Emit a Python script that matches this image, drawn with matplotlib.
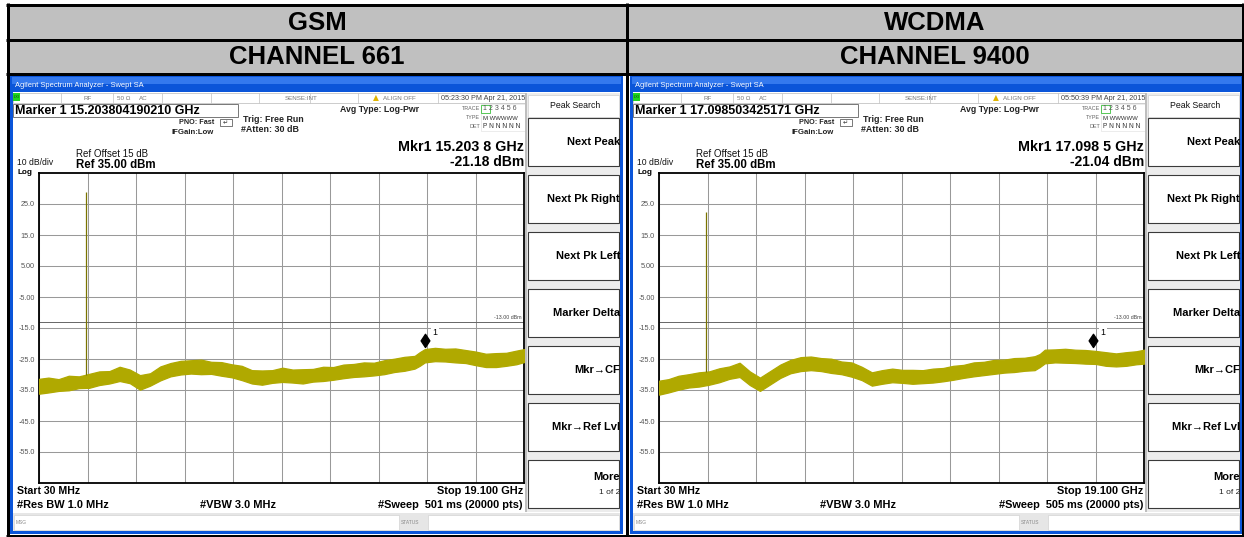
import matplotlib
matplotlib.use('Agg')
import matplotlib.pyplot as plt
from matplotlib.patches import Rectangle
from matplotlib.path import Path
import numpy as np

W, H = 1244, 537
plt.rcParams['font.family'] = ['Liberation Sans', 'DejaVu Sans']

# ---------------- data ----------------
headers = ['GSM', 'WCDMA']
channels = ['CHANNEL 661', 'CHANNEL 9400']
timestamps = ['05:23:30 PM Apr 21, 2015', '05:50:39 PM Apr 21, 2015']
marker_exact = ['Marker 1 15.203804190210 GHz', 'Marker 1 17.098503425171 GHz']
mkr_readout = ['Mkr1 15.203 8 GHz', 'Mkr1 17.098 5 GHz']
mkr_freq = [15.2038, 17.0985]          # GHz
mkr_level = [-21.18, -21.04]           # dBm
mkr_level_text = ['-21.18 dBm', '-21.04 dBm']
sweep_text = ['#Sweep  501 ms (20000 pts)', '#Sweep  505 ms (20000 pts)']
carrier_freq = [1.88, 1.88]            # GHz
carrier_peak = [29.0, 22.4]            # dBm
ref_level = 35.0
db_per_div = 10
start_ghz, stop_ghz = 0.03, 19.1
limit_line = -13.0
ytick_vals = [25, 15, 5, -5, -15, -25, -35, -45, -55]
ytick_labels = ['25.0', '15.0', '5.00', '-5.00', '-15.0', '-25.0', '-35.0', '-45.0', '-55.0']
softkeys = ['Next Peak', 'Next Pk Right', 'Next Pk Left', 'Marker Delta',
            'Mkr\u2192CF', 'Mkr\u2192Ref Lvl', 'More']

trace_freq = [0.03, 0.4, 0.8, 1.2, 1.6, 2.0, 2.4, 2.8, 3.2, 3.6,
              4.0, 4.4, 4.8, 5.2, 5.6, 6.0, 6.4, 6.8, 7.2, 7.6,
              8.0, 8.4, 8.8, 9.2, 9.6, 10.0, 10.4, 10.8, 11.2, 11.6,
              12.0, 12.4, 12.8, 13.2, 13.6, 14.0, 14.4, 14.8, 15.0, 15.2,
              15.6, 16.0, 16.4, 16.8, 17.2, 17.6, 18.0, 18.4, 18.8, 19.1]

gsm_upper = [-31.4, -31.0, -31.5, -30.4, -30.6, -29.8, -29.0, -28.9, -27.5, -28.4,
             -30.2, -29.6, -27.4, -26.3, -25.6, -25.4, -25.2, -25.9, -26.0, -26.7,
             -27.2, -28.6, -28.7, -28.6, -27.8, -28.4, -28.3, -28.2, -27.5, -27.6,
             -26.8, -26.6, -26.1, -26.2, -25.4, -24.9, -24.3, -24.0, -22.8, -21.8,
             -21.4, -21.7, -21.6, -22.1, -22.6, -23.3, -23.1, -23.0, -22.3, -21.8]
gsm_lower = [-36.2, -35.8, -35.3, -35.1, -34.4, -34.3, -33.4, -32.9, -32.1, -32.8,
             -34.9, -33.6, -31.9, -30.6, -30.0, -29.7, -29.9, -29.8, -30.4, -30.9,
             -31.8, -32.9, -33.3, -32.7, -32.4, -32.6, -32.9, -32.3, -32.1, -31.7,
             -31.2, -30.8, -30.6, -30.3, -29.9, -29.2, -28.8, -28.1, -27.2, -26.1,
             -25.7, -25.8, -26.1, -26.3, -27.0, -27.6, -27.6, -27.2, -26.7, -26.0]

wcdma_upper = [-32.0, -31.5, -30.4, -29.9, -29.3, -29.0, -28.0, -27.4, -26.2, -29.0,
               -31.0, -28.9, -26.8, -25.3, -24.4, -24.2, -24.7, -24.9, -25.8, -26.1,
               -27.5, -29.3, -28.6, -28.1, -28.5, -28.5, -28.6, -28.1, -27.9, -27.2,
               -26.9, -26.1, -25.9, -25.3, -25.2, -24.7, -24.6, -24.1, -23.4, -22.0,
               -21.9, -21.7, -22.0, -22.1, -22.4, -22.8, -23.2, -22.8, -22.5, -22.0]
wcdma_lower = [-36.5, -35.8, -34.9, -34.2, -33.9, -33.3, -32.5, -31.4, -30.8, -33.4,
               -35.3, -33.2, -31.1, -29.6, -28.9, -28.6, -28.9, -29.5, -29.9, -30.7,
               -31.8, -33.6, -33.0, -32.5, -32.7, -33.0, -32.8, -32.6, -32.2, -31.7,
               -31.1, -30.6, -30.2, -29.8, -29.4, -29.2, -28.8, -28.6, -27.6, -26.4,
               -26.1, -26.2, -26.3, -26.5, -26.6, -27.2, -27.4, -27.2, -26.7, -26.5]

uppers = [gsm_upper, wcdma_upper]
lowers = [gsm_lower, wcdma_lower]

# ---------------- figure ----------------
fig = plt.figure(figsize=(W / 100, H / 100), dpi=100)
fig.patch.set_facecolor('white')
bg = fig.add_axes([0, 0, 1, 1])
bg.set_xlim(0, W)
bg.set_ylim(H, 0)
bg.axis('off')

PT = 0.72  # points per pixel


def rect(x0, y0, x1, y1, fc='none', ec='none', lw=0.0, z=1):
    bg.add_patch(Rectangle((x0, y0), x1 - x0, y1 - y0, facecolor=fc,
                           edgecolor=ec, linewidth=lw, zorder=z))


def hline(y, x0, x1, color, lw, z=3):
    bg.plot([x0, x1], [y, y], color=color, lw=lw, zorder=z, solid_capstyle='butt')


def vline(x, y0, y1, color, lw, z=3):
    bg.plot([x, x], [y0, y1], color=color, lw=lw, zorder=z, solid_capstyle='butt')


def txt(x, y, s, size=7, weight='normal', ha='left', color='black', z=6, **kw):
    bg.text(x, y, s, fontsize=size, fontweight=weight, ha=ha, va='center',
            color=color, zorder=z, **kw)


# header cells
for i in range(2):
    x0 = 7.5 + 619 * i
    x1 = x0 + 619 if i == 0 else 1242.5
    rect(x0, 4.5, x1, 73.5, fc='#c0c0c0', z=0)
    cx = (x0 + x1) / 2
    txt(cx, 22.5, headers[i], size=18.5, weight='bold', ha='center')
    txt(cx, 57.5, channels[i], size=18.5, weight='bold', ha='center')

# diamond marker path (bottom tip at the data point)
diamond = Path([(0, 0), (-0.33, 0.5), (0, 1.0), (0.33, 0.5), (0, 0)],
               [Path.MOVETO, Path.LINETO, Path.LINETO, Path.LINETO, Path.CLOSEPOLY])

trace_color = '#b0a900'

for i in range(2):
    ox = 620 * i

    def X(x):
        return x + ox

    # window frame
    rect(X(10), 76, X(623), 534, fc='#0b55d9', z=1)
    rect(X(12), 77, X(621), 84, fc='#3479ee', z=1)
    txt(X(15), 85.5, 'Agilent Spectrum Analyzer - Swept SA', size=5.4, color='white')
    rect(X(13), 92, X(620), 531, fc='white', z=1)

    # status row
    rect(X(13), 93, X(525), 103, fc='white', ec='#b8b8b8', lw=0.5, z=2)
    rect(X(13), 93, X(20), 101, fc='#1fd31f', z=3)
    txt(X(14), 97, 'LXI', size=2.8, color='#114411')
    for sx in [61, 113, 162, 211, 259, 310, 358, 438]:
        vline(X(sx), 93, 103, '#c0c0c0', 0.5)
    txt(X(84), 98, 'RF', size=4.5, color='#777777')
    txt(X(117), 98, '50 \u03a9', size=4.5, color='#777777')
    txt(X(139), 98, 'AC', size=4.5, color='#777777')
    txt(X(285), 98, 'SENSE:INT', size=4.5, color='#777777')
    txt(X(373), 97.5, '\u25b2', size=5.5, color='#e0b400', family=['DejaVu Sans'])
    txt(X(383), 98, 'ALIGN OFF', size=4.5, color='#777777')
    txt(X(525), 98, timestamps[i], size=5.2, color='#444444', ha='right')

    # marker exact box
    rect(X(13), 104, X(238), 117, fc='white', ec='#777777', lw=0.7, z=2)
    txt(X(15), 110.8, marker_exact[i], size=9.0, weight='bold')

    txt(X(214), 123, 'PNO: Fast', size=5.2, weight='bold', color='#222222', ha='right')
    rect(X(220), 119, X(232), 126, fc='white', ec='#444444', lw=0.5, z=3)
    txt(X(223), 123, '\u21b5', size=4.5, color='#333333', family=['DejaVu Sans'])
    txt(X(172), 132, 'IFGain:Low', size=5.6, weight='bold', color='#222222')
    txt(X(243), 119, 'Trig: Free Run', size=6.4, weight='bold', color='#222222')
    txt(X(241), 130, '#Atten: 30 dB', size=6.4, weight='bold', color='#222222')
    txt(X(340), 109, 'Avg Type: Log-Pwr', size=6.3, weight='bold', color='#222222')

    # trace table
    txt(X(480), 108.5, 'TRACE', size=3.9, color='#666666', ha='right')
    txt(X(480), 117.5, 'TYPE', size=3.9, color='#666666', ha='right')
    txt(X(480), 126.5, 'DET', size=3.9, color='#666666', ha='right')
    rect(X(481), 105, X(490), 113, fc='white', ec='#3cbf3c', lw=0.6, z=3)
    txt(X(483), 109, '1 2 3 4 5 6', size=5.0, color='#555555')
    txt(X(483), 118, 'M WWWWW', size=4.3, color='#333333')
    txt(X(483), 127, 'P N N N N N', size=4.8, color='#333333')
    rect(X(481), 104, X(525), 131, fc='none', ec='#dddddd', lw=0.4, z=2)

    # readouts
    txt(X(524), 147, mkr_readout[i], size=10.3, weight='bold', ha='right')
    txt(X(524), 161.5, mkr_level_text[i], size=10.0, weight='bold', ha='right')
    txt(X(76), 154, 'Ref Offset 15 dB', size=7.0, color='#111111')
    txt(X(76), 165, 'Ref 35.00 dBm', size=8.3, weight='bold')
    txt(X(17), 162.5, '10 dB/div', size=6.2, color='#111111')
    txt(X(17), 172.5, 'Log', size=5.9, weight='bold')

    # bottom annotations
    txt(X(17), 491, 'Start 30 MHz', size=7.6, weight='bold')
    txt(X(17), 504.5, '#Res BW 1.0 MHz', size=7.9, weight='bold')
    txt(X(200), 504.5, '#VBW 3.0 MHz', size=7.9, weight='bold')
    txt(X(523), 491, 'Stop 19.100 GHz', size=7.9, weight='bold', ha='right')
    txt(X(523), 504.5, sweep_text[i], size=7.9, weight='bold', ha='right')

    # message bar
    rect(X(13), 513, X(620), 531, fc='#e6e6e6', z=2)
    rect(X(14), 515, X(399), 530, fc='white', ec='#cccccc', lw=0.4, z=3)
    rect(X(428), 515, X(619), 530, fc='white', ec='#cccccc', lw=0.4, z=3)
    txt(X(16), 522, 'MSG', size=3.5, color='#888888')
    txt(X(401), 522, 'STATUS', size=3.5, color='#888888')

    # softkey column
    vline(X(526), 93, 512, '#bdbdbd', 1.4)
    rect(X(527), 93, X(620), 512, fc='#ececec', z=2)
    rect(X(528), 95, X(619), 117, fc='white', ec='#cfcfcf', lw=0.5, z=3)
    txt(X(575), 105, 'Peak Search', size=6.3, ha='center', color='#111111')
    for k, lab in enumerate(softkeys):
        top = 118 + 57 * k
        rect(X(528), top, X(619), top + 48, fc='white', ec='#3a3a3a', lw=0.8, z=3)
        if lab == 'More':
            txt(X(620), top + 17, lab, size=8.0, weight='bold', ha='right')
            txt(X(620), top + 32.5, '1 of 2', size=6.0, ha='right', color='#222222')
        else:
            txt(X(620), top + 24, lab, size=8.0, weight='bold', ha='right')

    # ---------------- spectrum plot ----------------
    left, top, right, bottom = X(39), 173, X(524), 483
    ax = fig.add_axes([left / W, 1 - bottom / H, (right - left) / W, (bottom - top) / H])
    ax.set_zorder(5)
    ax.set_facecolor('white')
    ax.set_xlim(start_ghz, stop_ghz)
    ax.set_ylim(ref_level - 10 * db_per_div, ref_level)
    ax.set_xticks(np.linspace(start_ghz, stop_ghz, 11))
    ax.set_xticklabels([])
    ax.set_yticks(ytick_vals)
    ax.set_yticklabels(ytick_labels)
    ax.tick_params(axis='both', length=0)
    ax.tick_params(axis='y', pad=3, labelsize=5.2, labelcolor='#555555')
    ax.grid(True, color='#999999', lw=0.75)
    ax.set_axisbelow(True)
    for s in ax.spines.values():
        s.set_color('black')
        s.set_linewidth(1.3)

    ax.fill_between(trace_freq, lowers[i], uppers[i], color=trace_color,
                    edgecolor=trace_color, lw=0.9, zorder=3)
    base = np.interp(carrier_freq[i], trace_freq, uppers[i])
    ax.vlines(carrier_freq[i], base, carrier_peak[i], color='#7a7400', lw=0.9, zorder=3)

    ax.axhline(limit_line, color='#666666', lw=0.7, zorder=2)
    ax.annotate('-13.00 dBm', xy=(1, limit_line),
                xycoords=('axes fraction', 'data'), xytext=(-1.5, 1.2),
                textcoords='offset points', ha='right', va='bottom',
                fontsize=3.8, color='#444444')

    ax.plot([mkr_freq[i]], [mkr_level[i]], marker=diamond, markersize=19,
            color='black', zorder=6, clip_on=False)
    ax.annotate('1', xy=(mkr_freq[i], mkr_level[i]), xytext=(5.5, 10.5),
                textcoords='offset points', fontsize=6.3, ha='left', va='center',
                bbox=dict(boxstyle='square,pad=0.15', fc='white', ec='none'), zorder=7)

# black table lines (drawn last)
lw3 = 3 * PT
hline(4.5, 6, 1244, 'black', lw3, z=10)
hline(39.5, 6, 1244, 'black', lw3, z=10)
hline(73.5, 6, 1244, 'black', lw3, z=10)
hline(535.5, 6, 1244, 'black', lw3, z=10)
vline(7.5, 3, 537, 'black', lw3, z=10)
vline(626.5, 3, 537, 'black', lw3, z=10)
vline(1242.5, 3, 537, 'black', lw3, z=10)

fig.savefig('out.png', dpi=100, facecolor='white')
